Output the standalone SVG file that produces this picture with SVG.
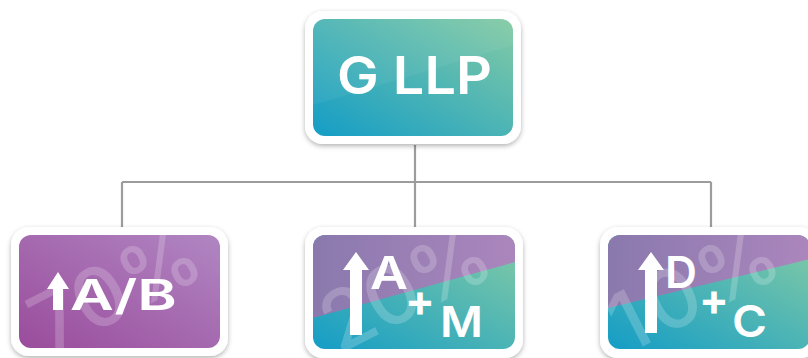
<svg xmlns="http://www.w3.org/2000/svg" width="808" height="358" viewBox="0 0 808 358">
<style>
.lbl{font-family:Inter,"Liberation Sans",Arial,sans-serif;font-weight:600;fill:#fff}
.pl{font-family:Inter,"Liberation Sans",Arial,sans-serif;font-weight:700;fill:#fff}
.wm{font-family:Inter,"Liberation Sans",Arial,sans-serif;font-weight:500;fill:#fff;fill-opacity:0.2}
.frame{fill:#fff;filter:url(#sh)}
.conn{fill:none;stroke:#9c9c9c;stroke-width:2.2}
.arr{fill:#fff}
</style>
<defs>
<filter id="sh" x="-10%" y="-10%" width="120%" height="130%">
<feDropShadow dx="0" dy="2" stdDeviation="2.5" flood-color="#000" flood-opacity="0.3"/>
</filter>
<linearGradient id="teal" x1="0" y1="1" x2="1" y2="0">
<stop offset="0" stop-color="#149dc6"/>
<stop offset="1" stop-color="#84cba4"/>
</linearGradient>
<linearGradient id="purp" x1="0" y1="1" x2="1" y2="0">
<stop offset="0" stop-color="#9a4c9c"/>
<stop offset="1" stop-color="#b086c2"/>
</linearGradient>
<linearGradient id="purp2" x1="0" y1="0" x2="1" y2="0">
<stop offset="0" stop-color="#8a79ad"/>
<stop offset="1" stop-color="#ab86bd"/>
</linearGradient>
<clipPath id="cM"><rect x="313" y="235" width="202" height="114" rx="12"/></clipPath>
<clipPath id="cL"><rect x="19" y="235" width="201" height="113" rx="12"/></clipPath>
<clipPath id="cR"><rect x="608" y="235" width="202" height="114" rx="12"/></clipPath>
<clipPath id="cT"><rect x="313" y="19" width="200" height="117" rx="12"/></clipPath>
</defs>
<g id="connectors">
<path class="conn" d="M415,145 V228"/>
<path class="conn" d="M122,182 H711"/>
<path class="conn" d="M122,182 V228"/>
<path class="conn" d="M711,182 V228"/>
</g>
<g id="node-top">
<rect class="frame" x="305" y="11" width="216" height="133" rx="18"/>
<rect x="313" y="19" width="200" height="117" rx="12" fill="url(#teal)"/>
<polygon clip-path="url(#cT)" points="313,19 513,19 513,45 313,105" fill="#fff" fill-opacity="0.05"/>
<text class="lbl" x="337" y="94" font-size="52" textLength="155" lengthAdjust="spacingAndGlyphs">G LLP</text>
</g>
<g id="node-left">
<rect class="frame" x="11" y="227" width="217" height="129" rx="18"/>
<rect x="19" y="235" width="201" height="113" rx="12" fill="url(#purp)"/>
<g clip-path="url(#cL)">
<text class="wm" x="116" y="318" font-size="82" text-anchor="middle" textLength="180" transform="rotate(-27 116 290)">70%</text>
</g>
<polygon class="arr" points="58,272 69,289 63,289 63,310 53,310 53,289 47,289"/>
<text class="lbl" x="70" y="310" font-size="42" textLength="107" lengthAdjust="spacingAndGlyphs">A/B</text>
</g>
<g id="node-middle">
<rect class="frame" x="305" y="227" width="218" height="131" rx="18"/>
<rect x="313" y="235" width="202" height="114" rx="12" fill="url(#teal)"/>
<polygon clip-path="url(#cM)" points="313,235 515,235 515,262 313,318" fill="url(#purp2)"/>
<g clip-path="url(#cM)">
<text class="wm" x="406" y="317" font-size="82" text-anchor="middle" textLength="180" transform="rotate(-27 406 289)">20%</text>
</g>
<polygon class="arr" points="356,252 369,270 362,270 362,335 350,335 350,270 343,270"/>
<text class="lbl" x="370" y="289" font-size="45" textLength="38" lengthAdjust="spacingAndGlyphs">A</text>
<text class="pl" x="420" y="316" font-size="44" text-anchor="middle">+</text>
<text class="lbl" x="440" y="337" font-size="42" textLength="43" lengthAdjust="spacingAndGlyphs">M</text>
</g>
<g id="node-right">
<rect class="frame" x="600" y="227" width="218" height="131" rx="18"/>
<rect x="608" y="235" width="202" height="114" rx="12" fill="url(#teal)"/>
<polygon clip-path="url(#cR)" points="608,235 810,235 810,259 608,308" fill="url(#purp2)"/>
<g clip-path="url(#cR)">
<text class="wm" x="694" y="317" font-size="82" text-anchor="middle" textLength="180" transform="rotate(-27 694 289)">10%</text>
</g>
<polygon class="arr" points="651,252 664,270 657,270 657,333 645,333 645,270 638,270"/>
<text class="lbl" x="665" y="288" font-size="44" textLength="32" lengthAdjust="spacingAndGlyphs">D</text>
<text class="pl" x="714" y="315" font-size="44" text-anchor="middle">+</text>
<text class="lbl" x="732" y="337" font-size="44" textLength="35" lengthAdjust="spacingAndGlyphs">C</text>
</g>
</svg>
